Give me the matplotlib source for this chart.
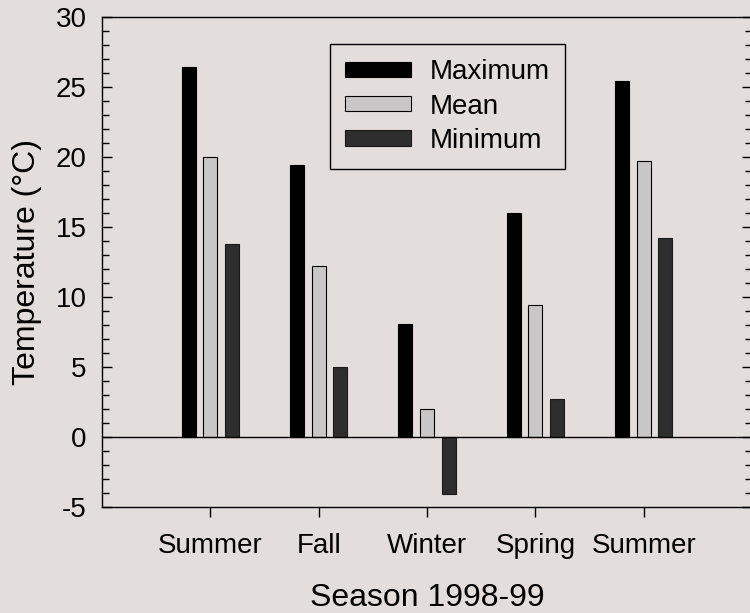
import numpy as np
import matplotlib.pyplot as plt
from matplotlib.ticker import MultipleLocator

plt.rcParams['font.family'] = ['Liberation Sans', 'DejaVu Sans']
plt.rcParams['axes.unicode_minus'] = False

seasons = ["Summer", "Fall", "Winter", "Spring", "Summer"]
t_max = [26.4, 19.4, 8.1, 16.0, 25.4]
t_mean = [20.0, 12.2, 2.0, 9.4, 19.7]
t_min = [13.8, 5.0, -4.1, 2.7, 14.2]

bg = "#e3dddc"
fig = plt.figure(figsize=(7.5, 6.13), dpi=100, facecolor=bg)
ax = fig.add_axes([102 / 750, 106 / 613, 650 / 750, 490 / 613])
ax.set_facecolor(bg)

x = np.arange(1, len(seasons) + 1)
w = 0.13
off = 0.2
ax.bar(x - off, t_max, w, color="black", edgecolor="black", lw=0.8, label="Maximum")
ax.bar(x, t_mean, w, color="#c8c6c6", edgecolor="black", lw=0.8, label="Mean")
ax.bar(x + off, t_min, w, color="#2e2e2e", edgecolor="#1a1a1a", lw=0.8, label="Minimum")
ax.axhline(0, color="black", lw=1.0)

ax.set_xlim(0, 6)
ax.set_ylim(-5, 30)
ax.set_xticks(x)
ax.set_xticklabels(seasons)
ax.yaxis.set_major_locator(MultipleLocator(5))
ax.yaxis.set_minor_locator(MultipleLocator(1))
ax.tick_params(axis="y", which="both", direction="in", right=True, labelsize=20, pad=11)
ax.tick_params(axis="y", which="major", length=7, width=1)
ax.tick_params(axis="y", which="minor", length=5, width=1)
ax.tick_params(axis="x", direction="out", length=7, width=1, labelsize=20, pad=12)
for s in ax.spines.values():
    s.set_linewidth(1.0)

ax.set_xlabel("Season 1998-99", fontsize=23, labelpad=17)
ax.set_ylabel("Temperature (°C)", fontsize=23, labelpad=10)

leg = ax.legend(loc="upper left", bbox_to_anchor=(330 / 750, 1 - 44 / 613),
                bbox_transform=fig.transFigure, fontsize=20, frameon=True,
                fancybox=False, edgecolor="black", facecolor=bg, framealpha=1,
                handlelength=2.35, handleheight=0.47, handletextpad=0.7,
                labelspacing=0.3, borderpad=0.55, borderaxespad=0)
leg.get_frame().set_linewidth(1.0)

fig.savefig("out.png", dpi=100, facecolor=bg)
